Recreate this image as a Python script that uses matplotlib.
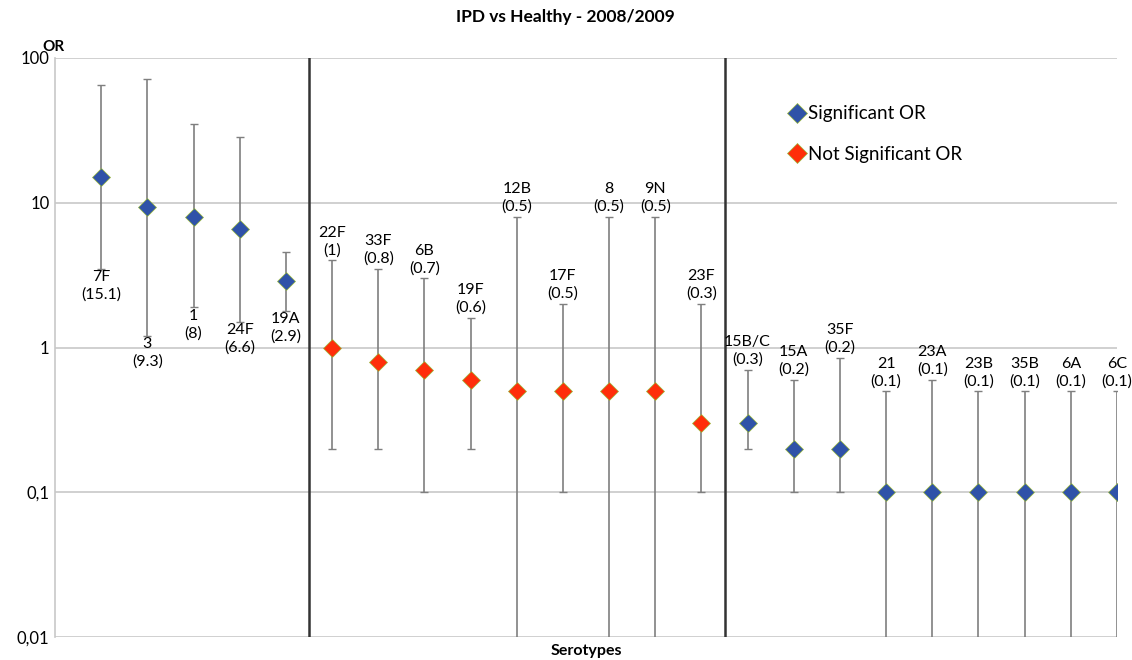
import matplotlib
matplotlib.use("Agg")
import matplotlib.pyplot as plt
from matplotlib.lines import Line2D
import numpy as np

plt.rcParams['font.family'] = ['Lato', 'DejaVu Sans']

serotypes = ["7F", "3", "1", "24F", "19A",
             "22F", "33F", "6B", "19F", "12B", "17F", "8", "9N", "23F",
             "15B/C", "15A", "35F", "21", "23A", "23B", "35B", "6A", "6C"]
odds_ratio = [15.1, 9.3, 8, 6.6, 2.9,
              1, 0.8, 0.7, 0.6, 0.5, 0.5, 0.5, 0.5, 0.3,
              0.3, 0.2, 0.2, 0.1, 0.1, 0.1, 0.1, 0.1, 0.1]
ci_high = [65, 72, 35, 28.5, 4.6,
           4.0, 3.5, 3.0, 1.6, 8, 2.0, 8, 8, 2.0,
           0.7, 0.6, 0.85, 0.5, 0.6, 0.5, 0.5, 0.5, 0.5]
ci_low = [3.5, 1.2, 1.9, 1.5, 1.8,
          0.2, 0.2, 0.1, 0.2, 0.001, 0.1, 0.001, 0.001, 0.1,
          0.2, 0.1, 0.1, 0.001, 0.001, 0.001, 0.001, 0.001, 0.001]
significant = [True] * 5 + [False] * 9 + [True] * 9
group_sizes = [5, 9, 9]

fig = plt.figure(figsize=(11.32, 6.6), dpi=100)
ax = fig.add_axes([55/1132, 1-637/660, (1117-55)/1132, (637-58)/660])
ax.set_yscale('log')
ax.set_ylim(0.01, 100)
n = len(serotypes)
ax.set_xlim(0, n)

x = np.arange(1, n + 1)
or_arr = np.array(odds_ratio)
lo = np.array(ci_low)
hi = np.array(ci_high)

ax.set_yticks([0.01, 0.1, 1, 10, 100])
ax.set_yticklabels(["0,01", "0,1", "1", "10", "100"])
ax.minorticks_off()
ax.tick_params(axis='y', length=0, labelsize=12, pad=4)
ax.tick_params(axis='x', length=0, labelbottom=False)
ax.yaxis.grid(True, color='#c8c8c8', lw=1.2)
ax.set_axisbelow(True)
for s in ['top', 'right', 'bottom']:
    ax.spines[s].set_visible(False)
ax.spines['left'].set_color('#c8c8c8')
ax.spines['left'].set_linewidth(1.2)

# group separators
b = np.cumsum(group_sizes)[:-1] + 0.5
for xv in b:
    ax.axvline(xv, color='#333333', lw=1.8, zorder=2)

ax.errorbar(x, or_arr, yerr=[or_arr - lo, hi - or_arr], fmt='none',
            ecolor='#7f7f7f', elinewidth=1.2, capsize=3, capthick=1.0, zorder=3)

blue = '#2f52a8'
red = '#ff2e0a'
edge = '#9ab83a'
sig = np.array(significant)
ax.plot(x[sig], or_arr[sig], 'D', color=blue, mec=edge, mew=0.5, ms=9, zorder=4, ls='none')
ax.plot(x[~sig], or_arr[~sig], 'D', color=red, mec=edge, mew=0.5, ms=9, zorder=4, ls='none')

for xi, name, v, l, h in zip(x, serotypes, odds_ratio, ci_low, ci_high):
    txt = f"{name}\n({v:g})"
    if v > 1:
        ax.annotate(txt, (xi, l), xytext=(0, -1), textcoords='offset points',
                    ha='center', va='top', fontsize=11.5, linespacing=1.3)
    else:
        ax.annotate(txt, (xi, h), xytext=(0, 2), textcoords='offset points',
                    ha='center', va='bottom', fontsize=11.5, linespacing=1.3)

handles = [Line2D([], [], marker='D', color=blue, mec=edge, mew=0.5, ms=10, ls='none'),
           Line2D([], [], marker='D', color=red, mec=edge, mew=0.5, ms=10, ls='none')]
fig.legend(handles, ["Significant OR", "Not Significant OR"], frameon=False,
           loc='upper left', bbox_to_anchor=(776/1132, 1-96/660), fontsize=13.5,
           handletextpad=0.0, labelspacing=1.25, handlelength=1.2, borderpad=0)

fig.text(565/1132, 1-17/660, "IPD vs Healthy - 2008/2009", ha='center', va='center',
         fontsize=12.5, fontweight='bold')
fig.text(42/1132, 1-47/660, "OR", ha='left', va='center', fontsize=11, fontweight='bold')
fig.text(586/1132, 1-651/660, "Serotypes", ha='center', va='center', fontsize=11.5, fontweight='bold')

fig.savefig("out.png", dpi=100)
